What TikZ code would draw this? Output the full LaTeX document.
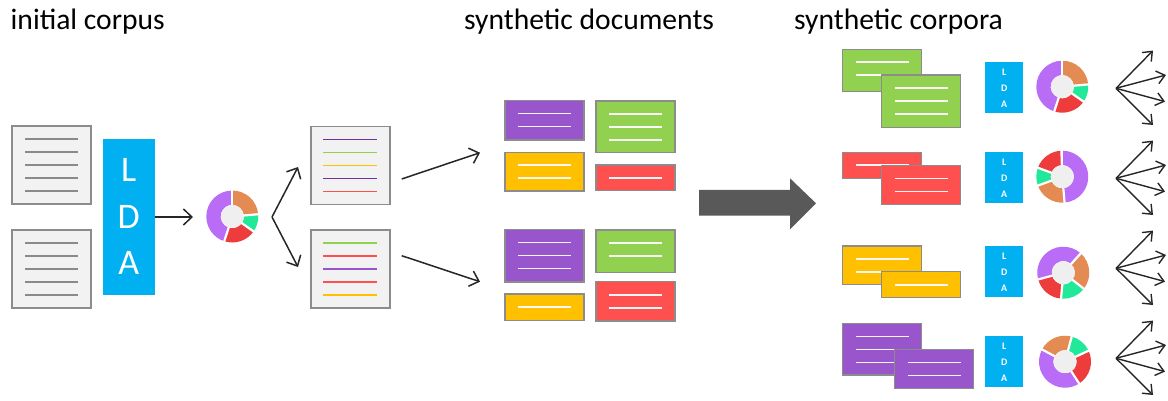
\documentclass[tikz,border=0pt]{standalone}
\usepackage{fontspec}
\setmainfont{Carlito}
\usetikzlibrary{arrows.meta,calc}

\definecolor{docfill}{HTML}{F2F2F2}
\definecolor{docedge}{HTML}{8C8C8C}
\definecolor{docline}{HTML}{8A8A8A}
\definecolor{ldablue}{HTML}{00B0F0}
\definecolor{bpurple}{HTML}{9955CC}
\definecolor{dpurple}{HTML}{7030A0}
\definecolor{bgreen}{HTML}{92D050}
\definecolor{byellow}{HTML}{FFC000}
\definecolor{bred}{HTML}{FF5050}
\definecolor{rorange}{HTML}{E38B52}
\definecolor{rgreen}{HTML}{22E89A}
\definecolor{rred}{HTML}{EE3C3C}
\definecolor{rpurple}{HTML}{B96CF5}
\definecolor{hole}{HTML}{EFEFEF}
\definecolor{arrowink}{HTML}{262626}
\definecolor{bigarrow}{HTML}{595959}

% a coloured block of width 79 with n white text lines
\newcommand\tblock[6]{% name, x, y, height, lines, colour
  \node[blockbox, fill=#6, minimum height=#4] (#1) at (#2,#3) {};
  \foreach \k in {1,...,#5}
    \draw[txtline, white!94!gray] ($(#1.north west)+(13.3,13*\k)$) -- ++(53,0);
}

% ring chart: name, cx, cy, list of start/end/colour (angles counter-clockwise)
\newcommand\ring[4]{%
  \coordinate (#1) at (#2,#3);
  \foreach \a/\b/\col in {#4}
    \fill[\col] ($(#1)+(-\a:26)$) arc[start angle=-\a, end angle=-\b, radius=26]
      -- ($(#1)+(-\b:11.7)$) arc[start angle=-\b, end angle=-\a, radius=11.7] -- cycle;
  \foreach \a/\b/\col in {#4}
    \draw[white, line width=2.2pt] ($(#1)+(-\a:10)$) -- ($(#1)+(-\a:28)$);
  \fill[hole] (#1) circle[radius=11.4];
}

\begin{document}
\begin{tikzpicture}[x=1pt, y=-1pt,
  title/.style={font=\fontsize{29.6}{32}\selectfont, text=black, inner sep=0, anchor=base west},
  doc/.style={draw=docedge, fill=docfill, line width=1.4pt, minimum width=79, minimum height=78,
    inner sep=0, outer sep=0, anchor=north west},
  blockbox/.style={draw=docedge, line width=1.4pt, minimum width=79, inner sep=0, outer sep=0,
    anchor=north west},
  txtline/.style={line width=1.6pt},
  ldabox/.style={fill=ldablue, inner sep=0, outer sep=0},
  bigletter/.style={text=white, font=\fontsize{36}{40}\selectfont, inner sep=0},
  smallletter/.style={text=white, font=\bfseries\fontsize{10}{12}\selectfont, inner sep=0},
  arr/.style={draw=arrowink, line width=1.5pt, -{Straight Barb[length=8.5pt, width=16pt]}},
  arrsmall/.style={draw=arrowink, line width=1.4pt, -{Straight Barb[length=8pt, width=13pt]}},
]
\useasboundingbox (0,0) rectangle (1168,401);

% headings
\node[title] (t1) at (10.5,29.5) {initial corpus};
\node[title] (t2) at (464,30) {synthetic documents};
\node[title] (t3) at (794,30) {synthetic corpora};

% initial corpus
\node[doc] (c1) at (12,126) {};
\node[doc] (c2) at (12,230) {};
\foreach \d in {c1,c2}
  \foreach \k in {1,...,5}
    \draw[txtline, docline] ($(\d.north west)+(13,13*\k)$) -- ++(53,0);

% topic model
\node[ldabox, minimum width=51.6, minimum height=155.7, anchor=north west] (lda) at (103,139.3) {};
\node[bigletter] (ldaL) at (128.8,170) {L};
\node[bigletter] (ldaD) at (128.8,216.7) {D};
\node[bigletter] (ldaA) at (128.8,263.3) {A};

\ring{ring0}{232.3}{216.5}{5/90/rorange, -35/5/rgreen, -108/-35/rred, 90/252/rpurple}
\coordinate (ring0in) at (193,217);
\draw[arr] (lda.east |- ring0in) -- (ring0in);

% sampled documents
\coordinate (split) at (272,217);
\coordinate (upT) at (298,167);
\coordinate (dnT) at (298,267);
\draw[arr] (split) -- (upT);
\draw[arr] (split) -- (dnT);

\node[doc] (m1) at (311,126.7) {};
\node[doc] (m2) at (311,230) {};
\foreach \k/\col in {1/dpurple,2/bgreen,3/byellow,4/dpurple,5/bred}
  \draw[txtline, \col] ($(m1.north west)+(12.3,13*\k)$) -- ++(53.4,0);
\foreach \k/\col in {1/bgreen,2/bred,3/bpurple,4/bred,5/byellow}
  \draw[txtline, \col] ($(m2.north west)+(12.3,13*\k)$) -- ++(53.4,0);

\coordinate (s1) at (401.7,179);
\coordinate (e1) at (480,152.7);
\coordinate (s2) at (401.7,255.7);
\coordinate (e2) at (480,281.7);
\draw[arr] (s1) -- (e1);
\draw[arr] (s2) -- (e2);

% synthetic documents
\tblock{p1}{505}{100.7}{39.3}{2}{bpurple}
\tblock{g1}{596}{101}{51.7}{3}{bgreen}
\tblock{y1}{505}{152.3}{38.7}{2}{byellow}
\tblock{r1}{596}{165}{25.7}{1}{bred}
\tblock{p2}{505}{229.3}{52.7}{3}{bpurple}
\tblock{g2}{596}{230}{42.3}{2}{bgreen}
\tblock{y2}{505}{294}{26.7}{1}{byellow}
\tblock{r2}{596}{281.7}{39.3}{2}{bred}

% big arrow
\fill[bigarrow] (699,190) -- (790,190) -- (790,178.3) -- (816,203.3) -- (790,229.3)
  -- (790,215.5) -- (699,215.5) -- cycle;

% synthetic corpora
\tblock{gb}{842.7}{49.3}{42.4}{2}{bgreen}
\tblock{gf}{881.7}{75}{52.3}{3}{bgreen}
\tblock{rb}{842.7}{152.3}{26}{1}{bred}
\tblock{rf}{881.7}{165.7}{38.6}{2}{bred}
\tblock{yb}{842.7}{246}{38.3}{2}{byellow}
\tblock{yf}{881.7}{271.7}{26}{1}{byellow}
\tblock{pb}{842.7}{323.3}{51.7}{3}{bpurple}
\tblock{pf}{894.3}{349.3}{39}{2}{bpurple}

\foreach \r/\y in {1/87.2,2/177.5,3/271.3,4/361.3} {
  \node[ldabox, minimum width=38.3, minimum height=51] (lda\r) at (1004.2,\y) {};
  \node[smallletter] (lda\r L) at ($(lda\r)+(0,-15)$) {L};
  \node[smallletter] (lda\r D) at ($(lda\r)+(0,1)$) {D};
  \node[smallletter] (lda\r A) at ($(lda\r)+(0,17)$) {A};
}

\ring{ring1}{1062.3}{86.7}{5/90/rorange, -35/5/rgreen, -108/-35/rred, 90/252/rpurple}
\ring{ring2}{1062.3}{176.7}{-85/88/rpurple, 92/160/rred, 160/200/rgreen, 200/275/rorange}
\ring{ring3}{1063.3}{272.7}{-38/48/rorange, 48/195/rpurple, 195/265/rred, 265/322/rgreen}
\ring{ring4}{1065}{361.7}{75/152/rorange, 25/75/rgreen, -57/25/rred, 152/303/rpurple}

% topic fans
\foreach \r/\y in {1/88.3,2/178.3,3/268.3,4/358.3} {
  \coordinate (fan\r) at (1116,\y);
  \foreach \i/\dx/\dy in {1/37/-37.7,2/50/-13.3,3/49/13.3,4/37/36.7} {
    \coordinate (fan\r-\i) at ($(fan\r)+(\dx,\dy)$);
    \draw[arrsmall] (fan\r) -- (fan\r-\i);
  }
}
\end{tikzpicture}
\end{document}
